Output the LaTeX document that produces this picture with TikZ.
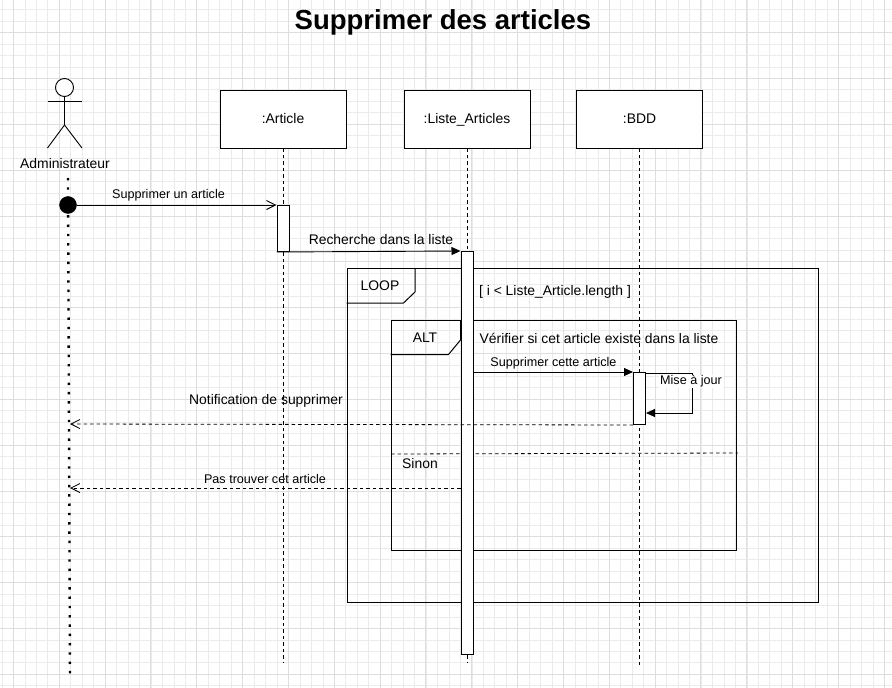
\documentclass[tikz,border=0pt]{standalone}
\usepackage{fontspec}
\setmainfont{Liberation Sans}
\usetikzlibrary{arrows.meta}
\tikzset{
  lifebox/.style={draw, fill=white, line width=0.9pt, minimum width=126pt, minimum height=58pt, inner sep=0pt, text height=12pt, text depth=3pt, font=\fontsize{13.9}{15}\selectfont},
  activation/.style={draw, fill=white, line width=1pt, minimum width=12pt, inner sep=0pt, anchor=north},
  framebox/.style={draw, line width=1pt, inner sep=0pt, anchor=north west},
  lifeline/.style={dash pattern=on 3.5pt off 3pt, line width=0.8pt},
  sendmsg/.style={line width=0.9pt, -{Triangle[length=9pt,width=8pt]}},
  openmsg/.style={line width=0.9pt, -{Straight Barb[length=9pt,width=9pt]}},
  returnmsg/.style={dash pattern=on 3.5pt off 3pt, line width=0.8pt, -{Straight Barb[length=9pt,width=9pt]}},
  txt/.style={font=\fontsize{13.9}{15}\selectfont, inner sep=1pt},
  smalltxt/.style={font=\fontsize{12.6}{14}\selectfont, inner sep=1pt}
}
\begin{document}
\begin{tikzpicture}[x=1pt, y=-1pt]
  \useasboundingbox (0,0) rectangle (892,688);
  \fill[white] (0,0) rectangle (892,688);

  % grid
  \foreach \i in {0,...,78} {
    \draw[black!8, line width=0.5pt] ({1.9+11.46*\i},0) -- ({1.9+11.46*\i},688);
  }
  \foreach \i in {0,...,60} {
    \draw[black!8, line width=0.5pt] (0,{9.5+11.46*\i}) -- (892,{9.5+11.46*\i});
  }
  \foreach \i in {0,...,19} {
    \draw[black!13, line width=0.7pt] ({13.2+45.84*\i},0) -- ({13.2+45.84*\i},688);
  }
  \foreach \i in {0,...,14} {
    \draw[black!13, line width=0.7pt] (0,{32.5+45.84*\i}) -- (892,{32.5+45.84*\i});
  }

  % title
  \node[font=\fontsize{27.5}{30}\selectfont\bfseries, inner sep=0pt] (title) at (443,22) {Supprimer des articles};

  % actor
  \node[draw, circle, line width=0.9pt, fill=white, minimum size=18pt, inner sep=0pt] (head) at (64.5,87.5) {};
  \coordinate (hip) at (64.5,125);
  \draw[line width=0.9pt] (head.south) -- (hip);
  \draw[line width=0.9pt] (47.5,101.5) -- (82,101.5);
  \draw[line width=0.9pt] (47.5,148) -- (hip) -- (82,148);
  \node[txt] (admin) at (65,164) {Administrateur};

  % lifelines
  \node[lifebox] (article) at (283,119) {:Article};
  \node[lifebox] (liste) at (467,119) {:Liste\_Articles};
  \node[lifebox] (bdd) at (639.5,119) {:BDD};
  \coordinate (adminTop) at (68,178);
  \coordinate (adminEnd) at (70,677);
  \coordinate (articleEnd) at (283,662);
  \coordinate (listeEnd) at (467,662);
  \coordinate (bddEnd) at (639.5,666);
  \draw[dash pattern=on 2.4pt off 6.9pt, line width=2.4pt] (adminTop) -- (adminEnd);
  \draw[lifeline] (article.south) -- (articleEnd);
  \draw[lifeline] (liste.south) -- (listeEnd);
  \draw[lifeline] (bdd.south) -- (bddEnd);

  % frames
  \node[framebox, minimum width=471pt, minimum height=334pt] (loop) at (346.5,268) {};
  \draw[line width=1pt] (loop.north west) ++(68.5,0) -- ++(0,24) -- ++(-11.5,11) -- ++(-57,0);
  \node[txt] (loopLab) at (380,286) {LOOP};
  \node[txt] (loopCond) at (555,292) {[ i < Liste\_Article.length ]};
  \node[framebox, minimum width=345.5pt, minimum height=229.5pt] (alt) at (390.5,320) {};
  \draw[line width=1pt] (alt.north west) ++(70,0) -- ++(0,20) -- ++(-12,14.5) -- ++(-58,0);
  \node[txt] (altLab) at (425,338) {ALT};
  \node[txt] (altCond) at (599,338) {Vérifier si cet article existe dans la liste};
  \coordinate (sinonL) at (391,454);
  \coordinate (sinonR) at (738,453);
  \draw[lifeline] (sinonL) -- (sinonR);
  \node[txt] (sinon) at (420,464) {Sinon};

  % activations
  \node[activation, minimum height=46pt] (actArticle) at (283,205) {};
  \node[activation, minimum height=403pt] (actListe) at (467,251) {};
  \node[activation, minimum height=52pt] (actBdd) at (639.5,372) {};

  % messages
  \node[draw, circle, fill=black, minimum size=17pt, inner sep=0pt] (start) at (68,205) {};
  \draw[openmsg] (start) -- (actArticle.north west);
  \node[smalltxt] (msgA) at (168.5,195.5) {Supprimer un article};
  \draw[sendmsg] (actArticle.south west) -- (actListe.north west);
  \node[txt] (msgB) at (381,240) {Recherche dans la liste};
  \draw[sendmsg] (actListe.east |- actBdd.north) -- (actBdd.north west);
  \node[smalltxt] (msgC) at (553.5,363) {Supprimer cette article};

  % self call
  \coordinate (selfA) at (692,373);
  \coordinate (selfB) at (692,413);
  \draw[sendmsg] (actBdd.east |- selfA) -- (selfA) -- (selfB) -- (actBdd.east |- selfB);
  \node[smalltxt, fill=white] (msgD) at (691,381.5) {Mise à jour};

  % returns
  \coordinate (adminA) at (70,424);
  \coordinate (adminB) at (70,488);
  \draw[returnmsg] (actBdd.south west) -- (adminA);
  \node[txt] (msgE) at (266,401) {Notification de supprimer};
  \draw[returnmsg] (actListe.west |- adminB) -- (adminB);
  \node[smalltxt] (msgF) at (265,479) {Pas trouver cet article};
\end{tikzpicture}
\end{document}
